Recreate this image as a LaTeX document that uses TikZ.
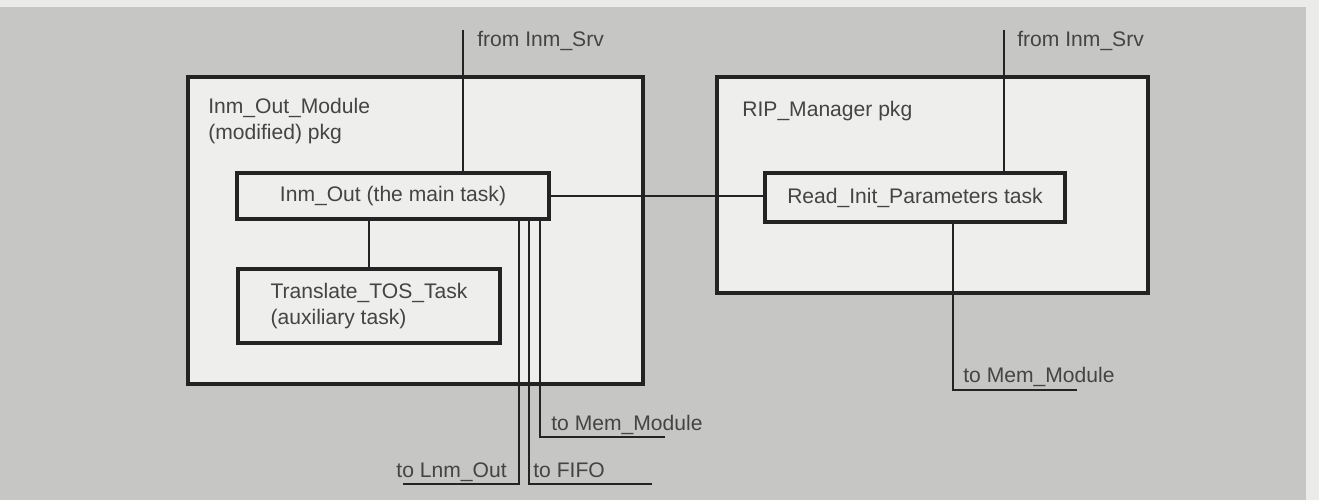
\documentclass[tikz,border=0pt]{standalone}
\usepackage{fontspec}
\setmainfont{Liberation Sans}
\definecolor{paper}{RGB}{198,198,196}
\definecolor{boxfill}{RGB}{238,238,236}
\definecolor{ink}{RGB}{35,35,35}
\begin{document}
\begin{tikzpicture}[x=0.02cm,y=-0.02cm,
    pkg/.style={draw=ink,line width=2pt,fill=boxfill},
    task/.style={draw=ink,line width=2pt,fill=boxfill,inner sep=0pt,font=\fontsize{12}{15}\selectfont,text=ink!85},
    lbl/.style={font=\fontsize{12}{15}\selectfont,text=ink!85,inner sep=0pt},
    wire/.style={draw=ink,line width=1.5pt}]
    \fill[paper] (0,0) rectangle (1319,500);
    \fill[paper!35!white] (0,0) rectangle (1319,7);
    \fill[paper!35!white] (1306,0) rectangle (1319,500);
    \useasboundingbox (0,0) rectangle (1319,500);
    % packages
    \node[pkg,minimum width=9.1cm,minimum height=6.14cm] (outmod) at (415.5,230.5) {};
    \node[pkg,minimum width=8.62cm,minimum height=4.32cm] (ripmgr) at (932.5,185) {};
    \node[lbl,anchor=base west] (outmodlbl) at (208,113) {Inm\_Out\_Module};
    \node[lbl,anchor=base west] (outmodlbl2) at (208,140) {(modified) pkg};
    \node[lbl,anchor=base west] (ripmgrlbl) at (742,117) {RIP\_Manager pkg};
    % tasks
    \node[task,minimum width=6.24cm,minimum height=0.92cm] (inmout) at (393,196) {Inm\_Out (the main task)};
    \node[task,minimum width=5.24cm,minimum height=1.48cm,align=left] (transtos) at (369,306) {Translate\_TOS\_Task\\(auxiliary task)};
    \node[task,minimum width=6cm,minimum height=0.98cm] (readinit) at (915,197.5) {Read\_Init\_Parameters task};
    % wires
    \coordinate (srcl) at (463,30);
    \coordinate (srcr) at (1004,30);
    \draw[wire] (srcl) -- (srcl |- inmout.north);
    \draw[wire] (srcr) -- (srcr |- readinit.north);
    \draw[wire] (inmout.east) -- (inmout.east -| readinit.west);
    \draw[wire] (inmout.south -| transtos.north) -- (transtos.north);
    \coordinate (lnmend) at (403,484);
    \coordinate (lnmbend) at (519,484);
    \draw[wire] (lnmend) -- (lnmbend) -- (lnmbend |- inmout.south);
    \coordinate (fifobend) at (529,484);
    \coordinate (fifoend) at (652,484);
    \draw[wire] (fifoend) -- (fifobend) -- (fifobend |- inmout.south);
    \coordinate (membend) at (540,437);
    \coordinate (memend) at (665,437);
    \draw[wire] (memend) -- (membend) -- (membend |- inmout.south);
    \coordinate (mem2bend) at (953,390);
    \coordinate (mem2end) at (1077,390);
    \draw[wire] (mem2end) -- (mem2bend) -- (mem2bend |- readinit.south);
    % wire labels
    \node[lbl,anchor=base west] (srcllbl) at (477,47) {from Inm\_Srv};
    \node[lbl,anchor=base west] (srcrlbl) at (1017,47) {from Inm\_Srv};
    \node[lbl,anchor=base east] (lnmlbl) at (507,477) {to Lnm\_Out};
    \node[lbl,anchor=base west] (fifolbl) at (533,477) {to FIFO};
    \node[lbl,anchor=base west] (memlbl) at (551,430) {to Mem\_Module};
    \node[lbl,anchor=base west] (mem2lbl) at (963,382) {to Mem\_Module};
\end{tikzpicture}
\end{document}
